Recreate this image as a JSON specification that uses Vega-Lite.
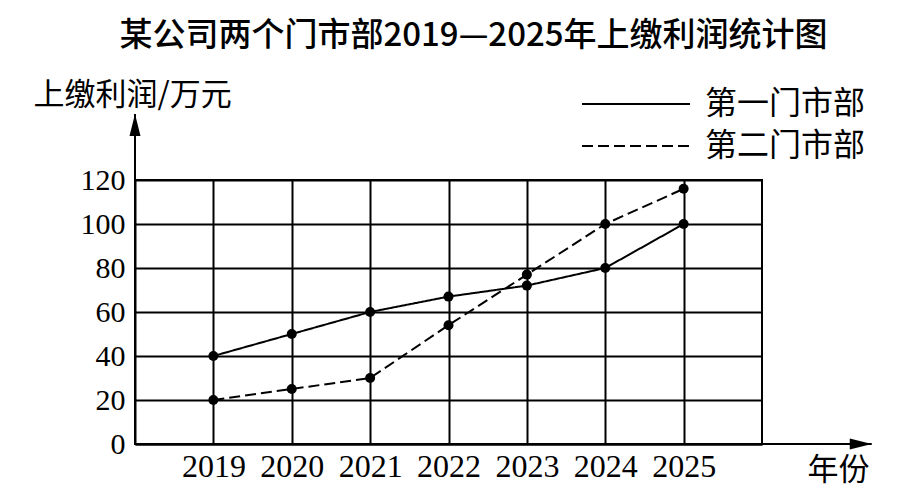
{
  "$schema": "https://vega.github.io/schema/vega-lite/v6.json",
  "autosize": {"type": "none"},
  "padding": {"left": 135, "top": 180, "right": 149, "bottom": 50},
  "width": 627,
  "height": 264,
  "background": "white",
  "title": {
    "text": "某公司两个门市部2019—2025年上缴利润统计图",
    "font": "Noto Sans CJK SC",
    "fontSize": 33,
    "fontWeight": 500,
    "color": "black",
    "anchor": "middle",
    "frame": "group",
    "dx": 25,
    "offset": 26
  },
  "datasets": {
    "profit": [
      {"year": 2019, "profit": 40, "dept": "第一门市部"},
      {"year": 2020, "profit": 50, "dept": "第一门市部"},
      {"year": 2021, "profit": 60, "dept": "第一门市部"},
      {"year": 2022, "profit": 67, "dept": "第一门市部"},
      {"year": 2023, "profit": 72, "dept": "第一门市部"},
      {"year": 2024, "profit": 80, "dept": "第一门市部"},
      {"year": 2025, "profit": 100, "dept": "第一门市部"},
      {"year": 2019, "profit": 20, "dept": "第二门市部"},
      {"year": 2020, "profit": 25, "dept": "第二门市部"},
      {"year": 2021, "profit": 30, "dept": "第二门市部"},
      {"year": 2022, "profit": 54, "dept": "第二门市部"},
      {"year": 2023, "profit": 77, "dept": "第二门市部"},
      {"year": 2024, "profit": 100, "dept": "第二门市部"},
      {"year": 2025, "profit": 116, "dept": "第二门市部"}
    ],
    "axisExt": [
      {"x": 2018, "y": 120, "x2": 2018, "y2": 150, "dir": "up"},
      {"x": 2026, "y": 0, "x2": 2027.4, "y2": 0, "dir": "right"}
    ]
  },
  "layer": [
    {
      "data": {"name": "axisExt"},
      "mark": {"type": "rule", "color": "black", "strokeWidth": 2},
      "encoding": {
        "x": {"field": "x", "type": "quantitative"},
        "y": {"field": "y", "type": "quantitative"},
        "x2": {"field": "x2"},
        "y2": {"field": "y2"}
      }
    },
    {
      "data": {"name": "axisExt"},
      "mark": {"type": "point", "filled": true, "color": "black", "opacity": 1, "size": 484},
      "encoding": {
        "x": {"field": "x2", "type": "quantitative"},
        "y": {"field": "y2", "type": "quantitative"},
        "shape": {
          "field": "dir",
          "type": "nominal",
          "scale": {"domain": ["up", "right"], "range": ["M0,0L-0.5,2L0.5,2Z", "M0,0L-2,-0.5L-2,0.5Z"]},
          "legend": null
        }
      }
    },
    {
      "data": {"name": "profit"},
      "mark": {"type": "line", "color": "black", "strokeWidth": 2},
      "encoding": {
        "x": {
          "field": "year",
          "type": "quantitative",
          "scale": {"domain": [2018, 2026], "nice": false, "zero": false},
          "axis": {
            "values": [2019, 2020, 2021, 2022, 2023, 2024, 2025],
            "format": "d",
            "title": "年份",
            "titleAngle": 0,
            "titleAlign": "left",
            "titleBaseline": "middle",
            "titleX": 672,
            "titleY": 26,
            "titleFontSize": 31,
            "labelBaseline": "top",
            "labelPadding": 7,
            "labelFontSize": 32
          }
        },
        "y": {
          "field": "profit",
          "type": "quantitative",
          "scale": {"domain": [0, 120], "nice": false},
          "axis": {
            "values": [0, 20, 40, 60, 80, 100, 120],
            "title": "上缴利润/万元",
            "titleAngle": 0,
            "titleAlign": "left",
            "titleBaseline": "middle",
            "titleX": -102,
            "titleY": -85,
            "titleFontSize": 31,
            "labelPadding": 10
          }
        },
        "strokeDash": {
          "field": "dept",
          "type": "nominal",
          "scale": {"domain": ["第一门市部", "第二门市部"], "range": [[1, 0], [11, 5]]},
          "legend": {
            "title": null,
            "orient": "none",
            "legendX": 529,
            "legendY": -92,
            "padding": 0,
            "symbolType": "M-9.8,0H1",
            "symbolSize": 400,
            "symbolStrokeWidth": 2,
            "symbolStrokeColor": "black",
            "labelFont": "Noto Sans CJK SC",
            "labelFontSize": 32,
            "labelColor": "black",
            "labelOffset": 9,
            "labelLimit": 300,
            "rowPadding": 10
          }
        }
      }
    },
    {
      "data": {"name": "profit"},
      "mark": {"type": "point", "filled": true, "color": "black", "opacity": 1, "size": 100},
      "encoding": {
        "x": {"field": "year", "type": "quantitative"},
        "y": {"field": "profit", "type": "quantitative"}
      }
    }
  ],
  "config": {
    "view": {"stroke": "black", "strokeWidth": 2},
    "axis": {
      "domainColor": "black",
      "domainWidth": 2,
      "grid": true,
      "gridColor": "black",
      "gridWidth": 2,
      "gridOpacity": 1,
      "ticks": false,
      "labelFont": "Liberation Serif",
      "labelFontSize": 30,
      "labelColor": "black",
      "titleFont": "Noto Sans CJK SC",
      "titleFontSize": 28,
      "titleFontWeight": "normal",
      "titleColor": "black"
    }
  }
}
